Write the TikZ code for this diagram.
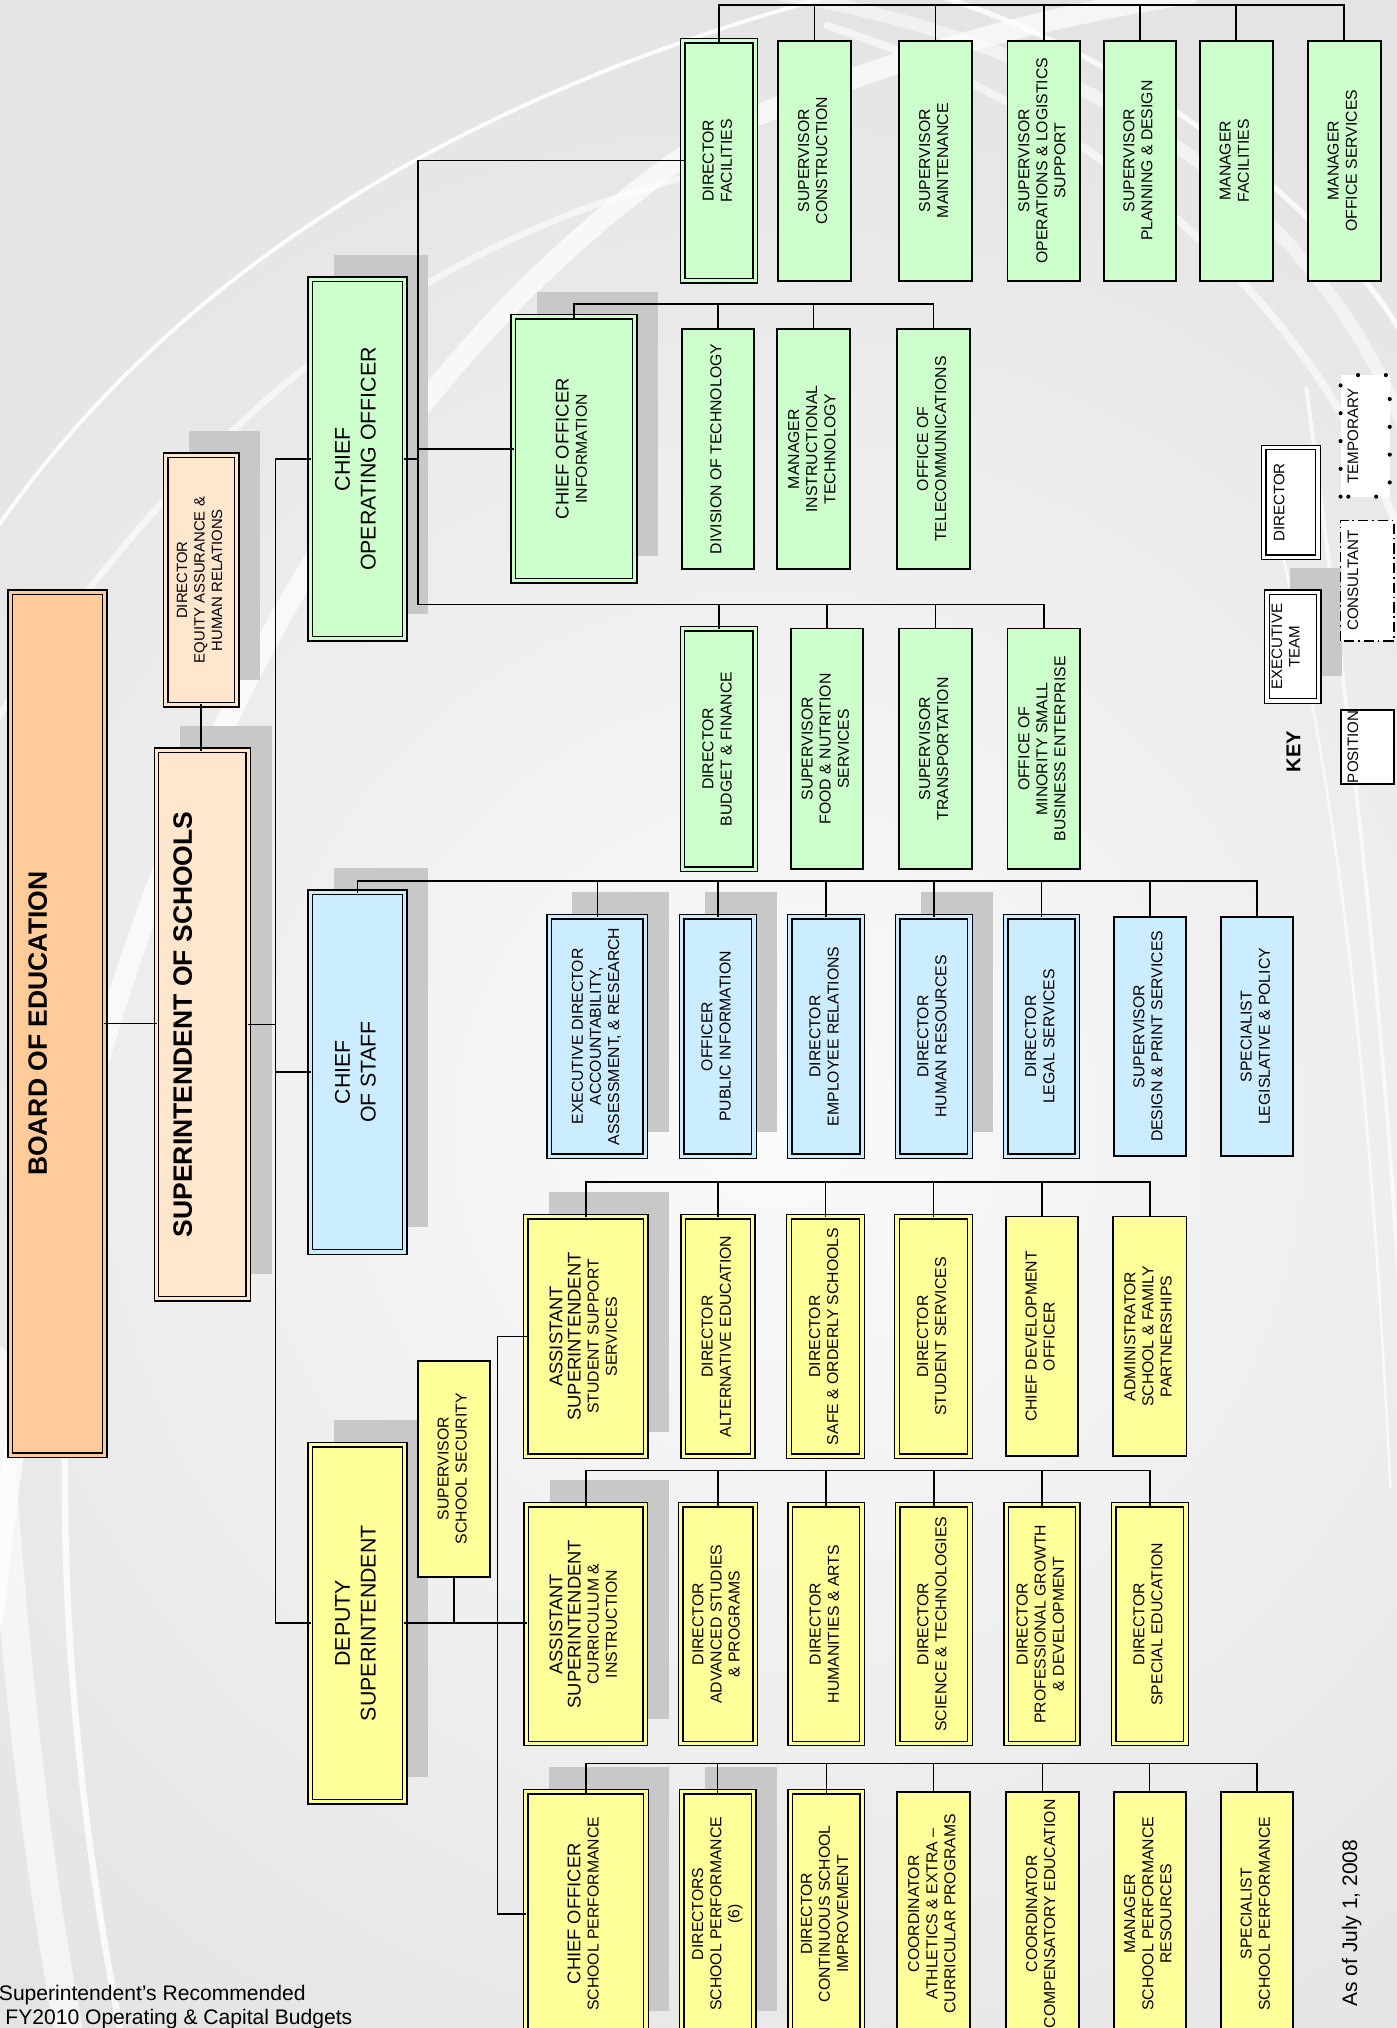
\documentclass[tikz,border=0pt]{standalone}
\usepackage{fontspec}
\setmainfont{Liberation Sans}
\usetikzlibrary{calc}
\definecolor{orgc}{HTML}{FFCC99}
\definecolor{pchc}{HTML}{FFE6CC}
\definecolor{grnc}{HTML}{CCFFCC}
\definecolor{bluc}{HTML}{CCECFF}
\definecolor{yelc}{HTML}{FFFF99}
\definecolor{shdc}{HTML}{C8C8C8}
\definecolor{bgc}{HTML}{E4E4E4}
\definecolor{bgin}{HTML}{FAFAFA}
\pgfdeclarelayer{bgl}\pgfdeclarelayer{shd}\pgfsetlayers{bgl,shd,main}
\newcommand\fLg{\fontsize{14.2}{16}\selectfont}
\newcommand\fBig{\fontsize{16.5}{20}\selectfont}
\newcommand\obox[7][]{\node[box,#1,minimum width={#4pt-#2pt},minimum height={#5pt-#3pt}] (#6) at ({(#2+#4)/2},{(#3+#5)/2}) {\rotatebox{90}{\begin{tabular}{@{}c@{}}#7\end{tabular}}};}
\newcommand\dropshd[1]{\begin{pgfonlayer}{shd}\fill[shdc] ([shift={(18,-19)}]#1.south west) rectangle ([shift={(18,-19)}]#1.north east);\end{pgfonlayer}}
\tikzset{
 box/.style={draw=black, line width=1.4pt, inner sep=0pt, outer sep=0pt, font=\fontsize{12.2}{14}\selectfont},
 dbl/.style={line width=1.1pt, double distance=2.4pt, double=#1},
 grS/.style={fill=grnc}, grD/.style={fill=grnc, dbl=grnc},
 ylS/.style={fill=yelc}, ylD/.style={fill=yelc, dbl=yelc},
 blS/.style={fill=bluc}, blD/.style={fill=bluc, dbl=bluc},
 pcD/.style={fill=pchc, dbl=pchc}, orD/.style={fill=orgc, dbl=orgc},
 whS/.style={fill=white}, whD/.style={fill=white, dbl=white},
 ln/.style={draw=black, line width=1.2pt, line cap=rect},
 keytxt/.style={rotate=90, inner sep=0pt, font=\fontsize{11.7}{13.5}\selectfont, align=center},
 swoosh/.style={draw=white, line cap=round},
}
\begin{document}
\begin{tikzpicture}[x=1pt,y=-1pt]
\useasboundingbox (0,0) rectangle (1080,1568);
\begin{pgfonlayer}{bgl}
\fill[bgc] (0,0) rectangle (1080,1568);
\shade[inner color=bgin, outer color=bgc] (-250,0) rectangle (1450,1750);
% left swooshes
\draw[swoosh, line width=3pt, opacity=.9] (-5,412) .. controls (120,230) and (330,80) .. (650,-5);
\draw[swoosh, line width=16pt, opacity=.7] (-5,1250) .. controls (40,800) and (200,330) .. (560,100) .. controls (700,40) and (800,15) .. (920,-5);
\draw[swoosh, line width=5pt, opacity=.6] (-5,560) .. controls (150,320) and (330,180) .. (560,130);
\draw[swoosh, line width=22pt, opacity=.6] (55,1580) .. controls (20,1400) and (5,1200) .. (-5,1050);
\draw[swoosh, line width=5pt, opacity=.8] (95,1580) .. controls (50,1350) and (40,1150) .. (60,950);
% right swooshes
\draw[swoosh, line width=10pt, opacity=.5] (600,-5) .. controls (820,30) and (1010,140) .. (1085,330);
\draw[swoosh, line width=4pt, opacity=.8] (720,-5) .. controls (900,50) and (1040,180) .. (1085,260);
\draw[swoosh, line width=6pt, opacity=.6] (640,20) .. controls (860,90) and (1020,240) .. (1085,420);
\draw[swoosh, line width=3pt, opacity=.7] (1010,300) .. controls (1050,600) and (1070,800) .. (1082,1000);
\draw[swoosh, line width=2pt, opacity=.7] (990,420) .. controls (1040,650) and (1060,850) .. (1075,1150);
\end{pgfonlayer}

% top level
\obox[orD,font=\fontsize{20.5}{24}\selectfont\bfseries]{8}{458}{81}{1125}{board}{BOARD OF EDUCATION\\[2pt]\mbox{}}
\obox[pcD,font=\fontsize{20.5}{24}\selectfont\bfseries]{121}{580}{192}{1004}{supt}{SUPERINTENDENT OF SCHOOLS\\[2pt]\mbox{}}
\dropshd{supt}
\obox[pcD,font=\fontsize{11.5}{13.5}\selectfont]{128}{352}{183}{545}{equity}{DIRECTOR\\EQUITY ASSURANCE \&\\HUMAN RELATIONS}
\dropshd{equity}
\obox[grD,font=\fBig]{240}{216}{313}{494}{coo}{CHIEF\\OPERATING OFFICER}
\dropshd{coo}
\obox[blD,font=\fBig]{240}{690}{313}{968}{cos}{CHIEF\\OF STAFF}
\dropshd{cos}
\obox[ylD,font=\fBig]{240}{1117}{313}{1393}{dep}{DEPUTY\\SUPERINTENDENT}
\dropshd{dep}
\obox[ylS]{323}{1052}{379}{1219}{sss}{SUPERVISOR\\SCHOOL SECURITY}

% facilities
\obox[grD]{528}{31.5}{584}{217}{dirfac}{DIRECTOR\\FACILITIES}
\obox[grS]{601.5}{31.5}{658}{217}{supcon}{SUPERVISOR\\CONSTRUCTION}
\obox[grS]{695}{31.5}{751.5}{217}{supmnt}{SUPERVISOR\\MAINTENANCE}
\obox[grS]{779}{31.5}{835}{217}{supops}{SUPERVISOR\\OPERATIONS \& LOGISTICS\\SUPPORT}
\obox[grS]{853.5}{31.5}{909}{217}{supplan}{SUPERVISOR\\PLANNING \& DESIGN}
\obox[grS]{927.5}{31.5}{984}{217}{mgrfac}{MANAGER\\FACILITIES}
\obox[grS]{1011}{31.5}{1067.5}{217}{mgroff}{MANAGER\\OFFICE SERVICES}

% information
\obox[grD]{397}{245}{490.6}{449}{cio}{\fLg CHIEF OFFICER\\INFORMATION}
\dropshd{cio}
\obox[grS]{527}{254.5}{583}{440}{divtech}{DIVISION OF TECHNOLOGY}
\obox[grS]{601}{254.5}{657}{440}{mgrit}{MANAGER\\INSTRUCTIONAL\\TECHNOLOGY}
\obox[grS]{693.5}{254.5}{750}{440}{telecom}{OFFICE OF\\TELECOMMUNICATIONS}

% budget
\obox[grD]{527.7}{486}{584}{672}{budget}{DIRECTOR\\BUDGET \& FINANCE}
\obox[grS]{611.5}{486}{667.5}{672}{food}{SUPERVISOR\\FOOD \& NUTRITION\\SERVICES}
\obox[grS]{695}{486}{751.5}{672}{transp}{SUPERVISOR\\TRANSPORTATION}
\obox[grS]{779}{486}{835}{672}{minority}{OFFICE OF\\MINORITY SMALL\\BUSINESS ENTERPRISE}

% chief of staff group
\obox[blD]{424.6}{708.7}{499}{894}{aar}{EXECUTIVE DIRECTOR\\ACCOUNTABILITY,\\ASSESSMENT, \& RESEARCH}
\dropshd{aar}
\obox[blD]{527}{708.7}{583}{894}{pubinfo}{OFFICER\\PUBLIC INFORMATION}
\dropshd{pubinfo}
\obox[blD]{610.5}{708.7}{666.6}{894}{emprel}{DIRECTOR\\EMPLOYEE RELATIONS}
\obox[blD]{694}{708.7}{750}{894}{hr}{DIRECTOR\\HUMAN RESOURCES}
\dropshd{hr}
\obox[blD]{777.7}{708.7}{833}{894}{legal}{DIRECTOR\\LEGAL SERVICES}
\obox[blS]{861}{708.7}{917}{894}{design}{SUPERVISOR\\DESIGN \& PRINT SERVICES}
\obox[blS]{944}{708.7}{1000}{894}{legis}{SPECIALIST\\LEGISLATIVE \& POLICY}

% student support
\obox[ylD]{406.6}{940.6}{499.4}{1126}{asss}{\fLg ASSISTANT\\\fLg SUPERINTENDENT\\STUDENT SUPPORT\\SERVICES}
\dropshd{asss}
\obox[ylD]{528.4}{940.6}{582}{1126}{alted}{DIRECTOR\\ALTERNATIVE EDUCATION}
\obox[ylD]{610}{940.6}{666.5}{1126}{safe}{DIRECTOR\\SAFE \& ORDERLY SCHOOLS}
\obox[ylD]{693.5}{940.6}{750}{1126}{stusvc}{DIRECTOR\\STUDENT SERVICES}
\obox[ylS]{777.6}{940.6}{833.6}{1126}{cdo}{CHIEF DEVELOPMENT\\OFFICER}
\obox[ylS]{860.6}{940.6}{917.4}{1126}{sfp}{ADMINISTRATOR\\SCHOOL \& FAMILY\\PARTNERSHIPS}

% curriculum
\obox[ylD]{407}{1163.5}{499}{1348}{aci}{\fLg ASSISTANT\\\fLg SUPERINTENDENT\\CURRICULUM \&\\INSTRUCTION}
\dropshd{aci}
\obox[ylD]{526.2}{1163.5}{584}{1348}{adv}{DIRECTOR\\ADVANCED STUDIES\\\& PROGRAMS}
\obox[ylD]{611}{1163.5}{666.5}{1348}{hum}{DIRECTOR\\HUMANITIES \& ARTS}
\obox[ylD]{694}{1163.5}{750}{1348}{sci}{DIRECTOR\\SCIENCE \& TECHNOLOGIES}
\obox[ylD]{778}{1163.5}{833.4}{1348}{prof}{DIRECTOR\\PROFESSIONAL GROWTH\\\& DEVELOPMENT}
\obox[ylD]{861}{1163.5}{917}{1348}{sped}{DIRECTOR\\SPECIAL EDUCATION}

% school performance
\obox[ylD]{406.4}{1385.4}{499.5}{1574}{cosp}{\fLg CHIEF OFFICER\\SCHOOL PERFORMANCE}
\dropshd{cosp}
\obox[ylD]{527}{1385.4}{582.7}{1574}{dsp}{DIRECTORS\\SCHOOL PERFORMANCE\\(6)}
\dropshd{dsp}
\obox[ylD]{611}{1385.4}{666.7}{1574}{csi}{DIRECTOR\\CONTINUOUS SCHOOL\\IMPROVEMENT}
\obox[ylS]{693.7}{1385.4}{750}{1574}{ath}{COORDINATOR\\ATHLETICS \& EXTRA –\\CURRICULAR PROGRAMS}
\obox[ylS]{778}{1385.4}{834}{1574}{comp}{COORDINATOR\\COMPENSATORY EDUCATION}
\obox[ylS]{861}{1385.4}{916.8}{1574}{spr}{MANAGER\\SCHOOL PERFORMANCE\\RESOURCES}
\obox[ylS]{944}{1385.4}{1000}{1574}{ssp}{SPECIALIST\\SCHOOL PERFORMANCE}

% ---------- connectors ----------
\coordinate (trk) at (213,0);
\draw[ln] (board.east) -- (board.east -| supt.west);
\draw[ln] (equity.south) -- (equity.south |- supt.north);
\draw[ln] (supt.east) -- (supt.east -| trk);
\draw[ln] (trk |- coo.west) -- (trk |- dep.west);
\draw[ln] (trk |- coo.west) -- (coo.west);
\draw[ln] (trk |- cos.west) -- (cos.west);
\draw[ln] (trk |- dep.west) -- (dep.west);

\coordinate (cbus) at (323,0);
\coordinate (facbus) at (0,4);
\coordinate (budbus) at (0,467.5);
\coordinate (ciobus) at (0,235);
\draw[ln] (coo.east) -- (coo.east -| cbus);
\draw[ln] (cbus |- dirfac.west) -- (cbus |- budbus) -- (minority.north |- budbus);
\draw[ln] (cbus |- dirfac.west) -- (dirfac.west);
\draw[ln] (cbus |- cio.west) -- (cio.west);
\foreach \n in {budget,food,transp,minority} \draw[ln] (\n.north) -- (\n.north |- budbus);
\draw[ln] (dirfac.north |- facbus) -- (mgroff.north |- facbus);
\foreach \n in {dirfac,supcon,supmnt,supops,supplan,mgrfac,mgroff} \draw[ln] (\n.north) -- (\n.north |- facbus);
\draw[ln] (cio.north |- ciobus) -- (telecom.north |- ciobus);
\foreach \n in {cio,divtech,mgrit,telecom} \draw[ln] (\n.north) -- (\n.north |- ciobus);

\coordinate (cosbus) at (0,681);
\draw[ln] (cos.north) -- (cos.north |- cosbus) -- (legis.north |- cosbus);
\foreach \n in {aar,pubinfo,emprel,hr,legal,design,legis} \draw[ln] (\n.north) -- (\n.north |- cosbus);

\coordinate (dbus) at (384.5,0);
\draw[ln] (dep.east) -- (dep.east -| aci.west);
\draw[ln] (sss.south) -- (sss.south |- dep.east);
\draw[ln] (dbus |- asss.west) -- (asss.west);
\draw[ln] (dbus |- asss.west) -- (dbus |- cosp.west) -- (cosp.west);

\coordinate (ssbus) at (0,914);
\draw[ln] (asss.north |- ssbus) -- (sfp.north |- ssbus);
\foreach \n in {asss,alted,safe,stusvc,cdo,sfp} \draw[ln] (\n.north) -- (\n.north |- ssbus);
\coordinate (cibus) at (0,1137);
\draw[ln] (aci.north |- cibus) -- (sped.north |- cibus);
\foreach \n in {aci,adv,hum,sci,prof,sped} \draw[ln] (\n.north) -- (\n.north |- cibus);
\coordinate (spbus) at (0,1363.5);
\draw[ln] (cosp.north |- spbus) -- (ssp.north |- spbus);
\foreach \n in {cosp,dsp,csi,ath,comp,spr,ssp} \draw[ln] (\n.north) -- (\n.north |- spbus);

% ---------- key ----------
\node[box,whD,minimum width=42pt,minimum height=85pt] (kdir) at (998,388.5) {};
\node[keytxt] (kdirt) at (989,388.5) {DIRECTOR};
\node[box,whD,minimum width=40pt,minimum height=84pt] (kexec) at (999.6,500) {};
\dropshd{kexec}
\node[keytxt] (kexect) at (994,500) {EXECUTIVE\\TEAM};
\node[box,whS,minimum width=41pt,minimum height=57pt] (kpos) at (1057.5,577.5) {};
\node[keytxt] (kpost) at (1046,577.5) {POSITION};
\node[box,whS,draw=none,minimum width=41.5pt,minimum height=93pt] (kcons) at (1057.25,449) {};
\draw[line width=1.3pt, dash pattern=on 8pt off 3pt on 1.2pt off 3pt] (kcons.south west) rectangle (kcons.north east);
\node[keytxt] (kconst) at (1046,449) {CONSULTANT};
\node[box,whS,draw=none,minimum width=38pt,minimum height=94pt] (ktemp) at (1055.5,337) {};
\draw[line width=3.2pt, line cap=round, dash pattern=on 0pt off 21.5pt] (ktemp.south west) rectangle (ktemp.north east);
\node[keytxt] (ktempt) at (1046,337) {TEMPORARY};
\node[rotate=90, inner sep=0pt, font=\fontsize{15.5}{18}\selectfont\bfseries] (keylbl) at (1000,581) {KEY};

% ---------- notes ----------
\node[rotate=90, inner sep=0pt, font=\fontsize{16.2}{19}\selectfont] (asof) at (1045,1487) {As of July 1, 2008};
\node[anchor=base west, inner sep=0pt, font=\fontsize{16.3}{19}\selectfont] (note1) at (-1,1547) {Superintendent{\char"0027}s Recommended};
\node[anchor=base west, inner sep=0pt, font=\fontsize{16.3}{19}\selectfont] (note2) at (4,1565) {FY2010 Operating \& Capital Budgets};
\end{tikzpicture}
\end{document}
